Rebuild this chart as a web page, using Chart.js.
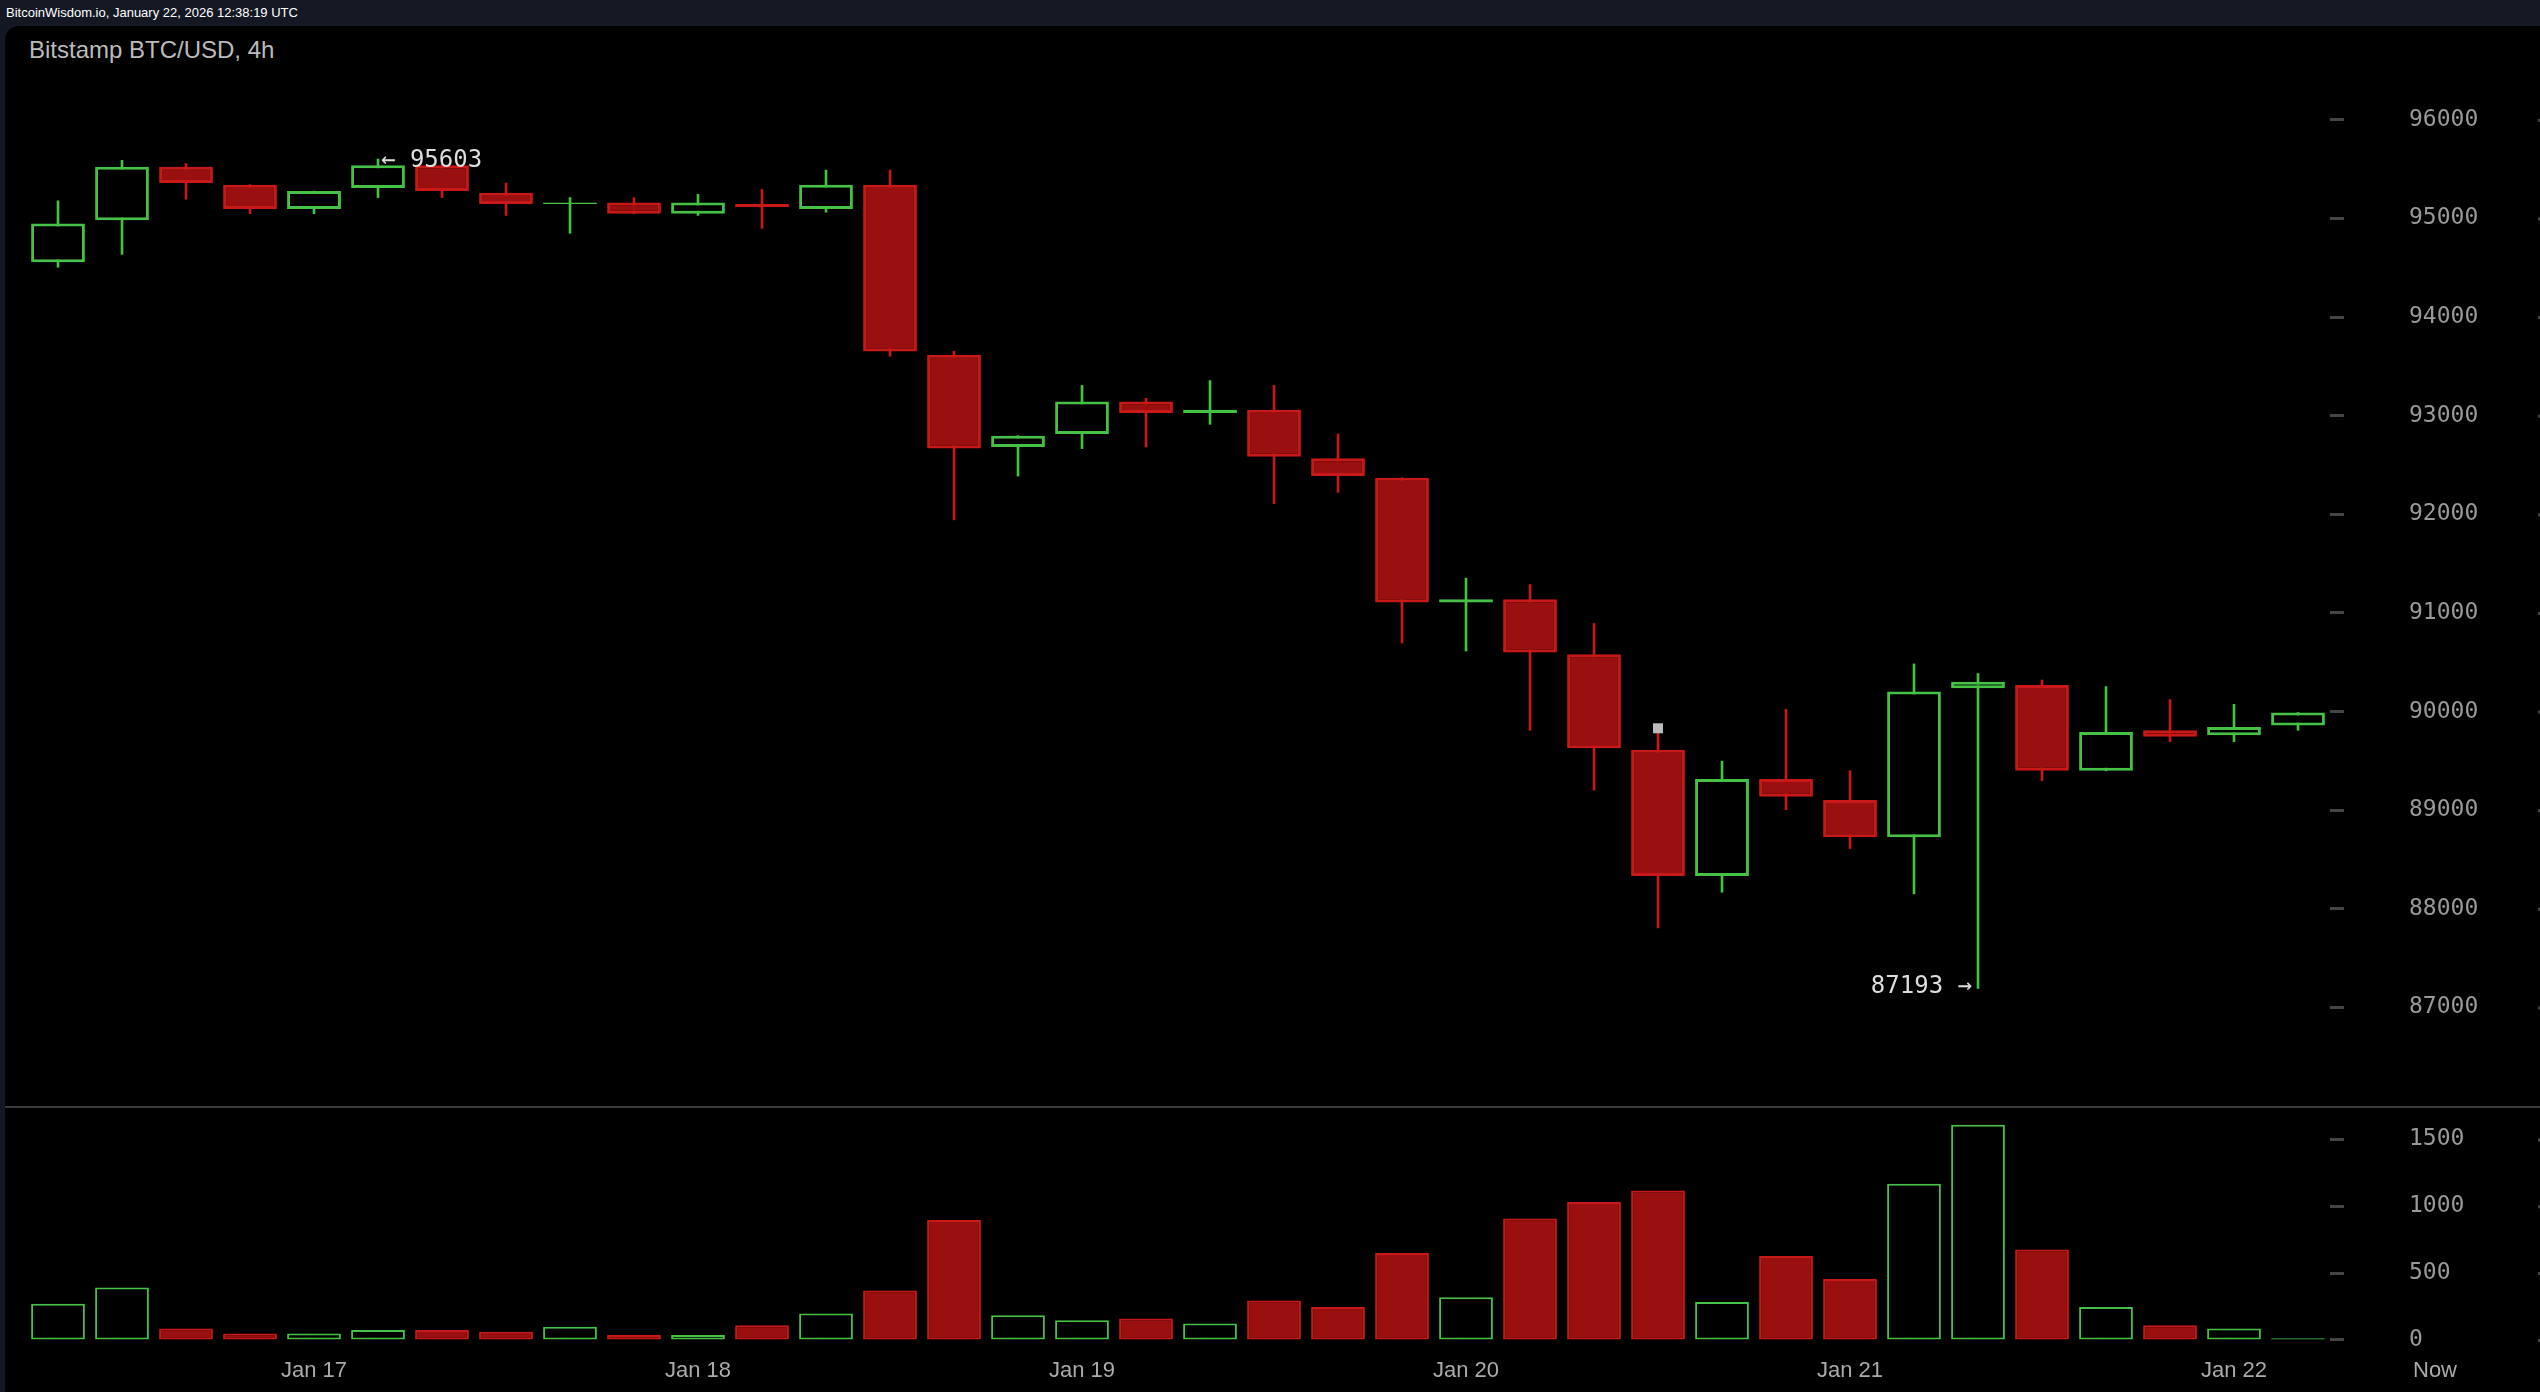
<!DOCTYPE html>
<html><head><meta charset="utf-8">
<script src="https://cdn.jsdelivr.net/npm/chart.js@4.4.1/dist/chart.umd.min.js"></script>
<style>
body{margin:0;width:2540px;height:1392px;background:#131823;overflow:hidden;font-family:"Liberation Sans",Arial,sans-serif}
#top{position:absolute;left:6px;top:5px;color:#fff;font-size:13px;}
#panel{position:absolute;left:5px;top:26px;width:2535px;height:1366px;background:#000;border-top-left-radius:14px;}
#title{position:absolute;left:29px;top:36px;color:#bbb;font-size:24px;}
#div{position:absolute;left:5px;top:1106px;width:2535px;height:2px;background:#3a3a3a}
canvas{position:absolute}
</style></head><body>
<div id="top">BitcoinWisdom.io, January 22, 2026 12:38:19 UTC</div>
<div id="panel"></div>
<div id="div"></div>
<div id="title">Bitstamp BTC/USD, 4h</div>
<canvas id="pc" width="2514" height="1066" style="left:26px;top:40px"></canvas>
<canvas id="vc" width="2514" height="250" style="left:26px;top:1110px"></canvas>
<script>
const opens  = [94555,94982,95524,95343,95097,95310,95540,95261,95146,95162,95048,95146,95097,95343,93619,92683,92815,93143,93028,93061,92568,92371,91107,91140,90581,89612,88332,89317,89103,88726,90237,90270,89399,89810,89760,89859];
const closes = [94949,95524,95360,95097,95278,95540,95278,95146,95162,95048,95162,95113,95343,93652,92667,92798,93143,93028,93061,92585,92388,91107,91140,90598,89629,88332,89317,89136,88726,90204,90302,89399,89793,89744,89843,89990];
const highs  = [95179,95590,95557,95343,95278,95603,95557,95360,95212,95212,95245,95294,95491,95491,93652,92798,93307,93176,93356,93307,92814,92371,91353,91288,90893,89810,89497,90023,89399,90483,90385,90320,90253,90122,90073,89990];
const lows   = [94506,94637,95195,95048,95048,95212,95212,95031,94850,95048,95031,94900,95064,93603,91944,92388,92667,92683,92913,92108,92223,90696,90614,89810,89202,87806,88168,89005,88611,88151,87193,89300,89399,89694,89694,89810];
const volumes= [270,393,86,49,49,74,74,61,98,37,37,110,197,369,897,184,147,160,123,295,246,651,320,909,1032,1118,283,627,455,1168,1610,676,246,110,86,12];
const dayLabels = [[4,"Jan 17"],[10,"Jan 18"],[16,"Jan 19"],[22,"Jan 20"],[28,"Jan 21"],[34,"Jan 22"]];
const priceTicks=[87000,88000,89000,90000,91000,92000,93000,94000,95000,96000];
const volTicks=[0,500,1000,1500];

const labels=opens.map((_,i)=>i);
const up=opens.map((o,i)=>closes[i]>=o);
const G='#45c245', RF='#9a1010', RS='#c81818';
function yAxis(min,max,ticks){return {position:'right',min,max,
  afterFit:s=>{s.width=210;s.paddingTop=0;s.paddingBottom=0},
  afterBuildTicks:s=>{s.ticks=ticks.map(v=>({value:v}))},
  grid:{drawOnChartArea:false,drawTicks:true,tickLength:14,color:'#444',tickWidth:3},
  border:{display:false},
  ticks:{display:false}}}
const labelPlugin={id:'yl',afterDraw(c){const y=c.scales.y,ctx=c.ctx;ctx.save();
  ctx.fillStyle='#999';ctx.font='23px "DejaVu Sans Mono"';ctx.textAlign='left';ctx.textBaseline='middle';
  y.ticks.forEach(t=>ctx.fillText(String(t.value),c.chartArea.right+79,y.getPixelForValue(t.value)));
  ctx.fillStyle='#444';y.ticks.forEach(t=>ctx.fillRect(c.chartArea.right+208,y.getPixelForValue(t.value)-1,14,3));
  ctx.restore();}};
const xAxis={display:false,offset:true,grid:{display:false}};
Chart.defaults.animation=false;
const common={responsive:false,devicePixelRatio:1,maintainAspectRatio:false,layout:{padding:0},
  plugins:{legend:{display:false},tooltip:{enabled:false}}};
const pc=new Chart(document.getElementById('pc'),{type:'bar',
 data:{labels,datasets:[
  {data:labels.map(i=>[Math.min(opens[i],closes[i]),Math.max(opens[i],closes[i])]),
   backgroundColor:up.map(u=>u?'rgba(0,0,0,1)':RF),borderColor:up.map(u=>u?G:RS),borderWidth:3,borderSkipped:false,
   barPercentage:0.84,categoryPercentage:1,grouped:false,order:1},
  {data:labels.map(i=>[lows[i],highs[i]]),backgroundColor:up.map(u=>u?G:RS),
   barThickness:2,grouped:false,order:2}]},
 options:{...common,scales:{x:xAxis,y:yAxis(86000,96810,priceTicks)}},
 plugins:[labelPlugin,{id:'ann',afterDraw(c){const x=c.scales.x,y=c.scales.y,ctx=c.ctx;
  ctx.save();ctx.fillStyle='#ddd';ctx.font='24px "DejaVu Sans Mono"';ctx.textBaseline='middle';
  const mx=Math.max(...highs),mn=Math.min(...lows);
  const hi=highs.indexOf(mx),lo=lows.indexOf(mn);
  ctx.textAlign='left';ctx.fillText('← '+mx,x.getPixelForValue(hi)+3,y.getPixelForValue(mx)+2);
  ctx.textAlign='right';ctx.fillText(mn+' →',x.getPixelForValue(lo)-6,y.getPixelForValue(mn)-2);
  ctx.fillStyle='#bbb';ctx.fillRect(x.getPixelForValue(25)-5,y.getPixelForValue(highs[25])-7,10,10);
  ctx.restore();}}]});
const vc=new Chart(document.getElementById('vc'),{type:'bar',
 data:{labels,datasets:[{data:volumes,backgroundColor:up.map(u=>u?'rgba(0,0,0,1)':RF),borderColor:up.map(u=>u?G:RS),
   borderWidth:2,borderSkipped:false,barPercentage:0.84,categoryPercentage:1}]},
 options:{...common,scales:{x:xAxis,y:yAxis(-150,1720,volTicks)}},plugins:[labelPlugin]});
const xl=document.createElement('canvas');xl.width=2540;xl.height=40;xl.style.cssText='left:0;top:1352px';document.body.appendChild(xl);
const c2=xl.getContext('2d');c2.fillStyle='#aaa';c2.font='22px "Liberation Sans"';c2.textAlign='center';c2.textBaseline='middle';
dayLabels.forEach(([i,t])=>c2.fillText(t,26+vc.scales.x.getPixelForValue(i),19));
c2.fillText('Now',2435,19);
</script></body></html>
